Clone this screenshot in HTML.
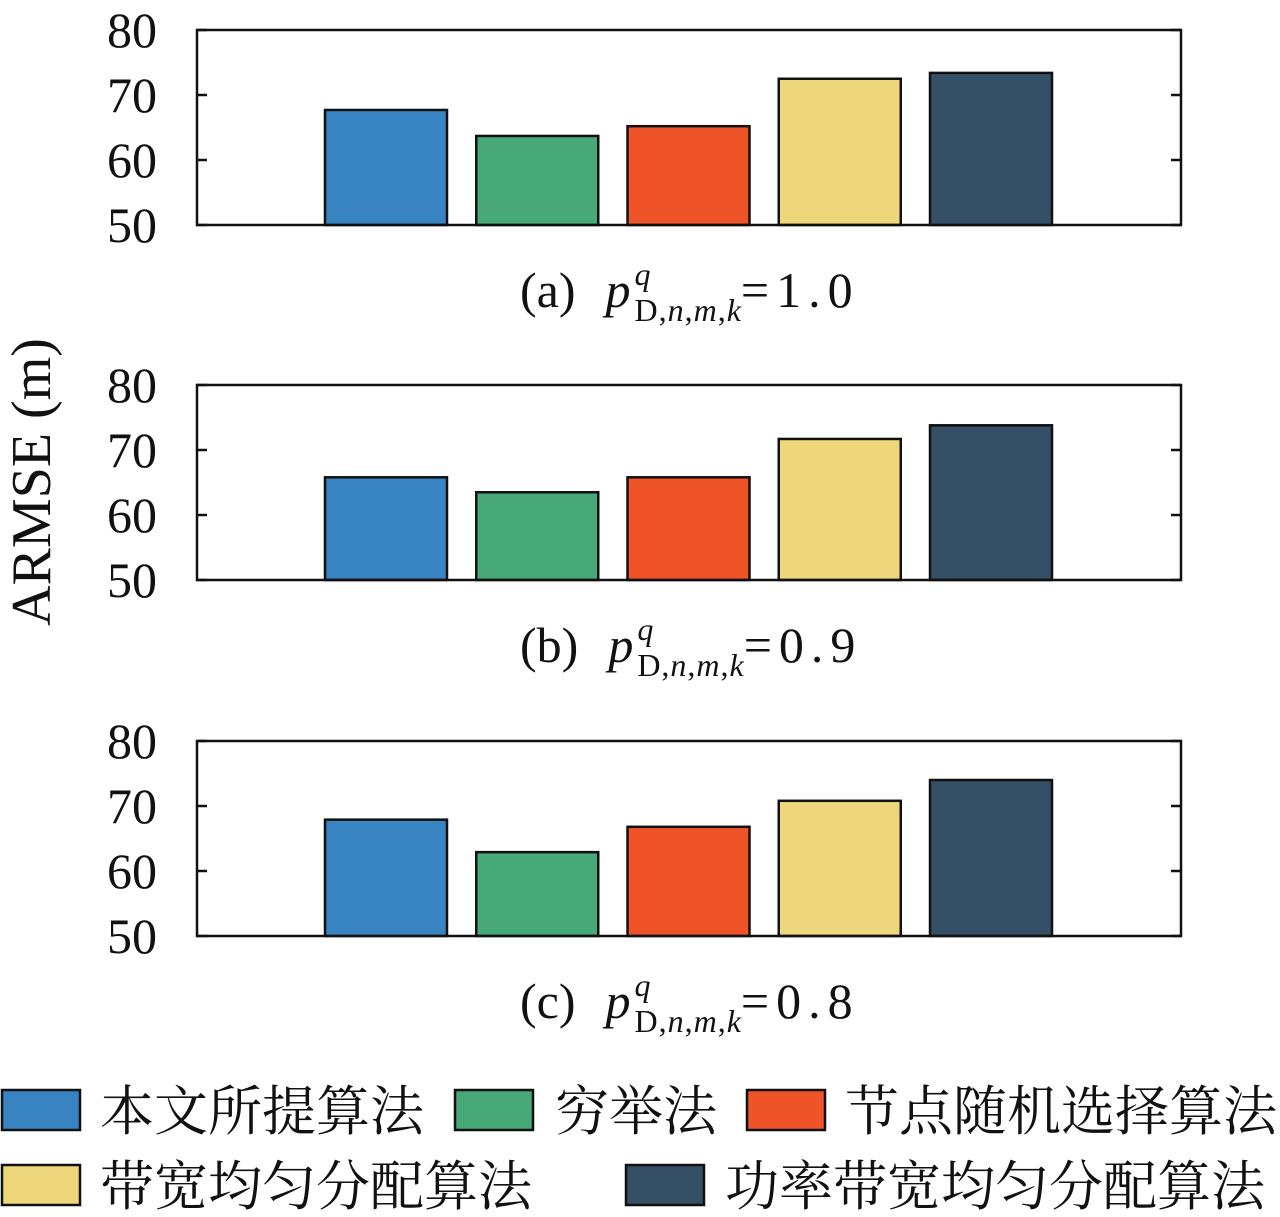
<!DOCTYPE html>
<html><head><meta charset="utf-8"><style>
body{margin:0;background:#fff;width:1280px;height:1212px;overflow:hidden}
svg text{font-family:"Liberation Serif","Noto Serif CJK SC",serif;fill:#111}
</style></head><body>
<svg id="chart" width="1280" height="1212" xmlns="http://www.w3.org/2000/svg"></svg>
<script>
const categories=["本文所提算法","穷举法","节点随机选择算法","带宽均匀分配算法","功率带宽均匀分配算法"];
const colors=["#3883c1","#47a977","#ef5428","#edd77a","#344f66"];
const panelA=[67.7,63.7,65.2,72.5,73.4];
const panelB=[65.8,63.5,65.8,71.7,73.8];
const panelC=[67.9,62.9,66.8,70.8,74.0];
const yTicks=[50,60,70,80];
const panelLabels=["(a)","(b)","(c)"];
const panelValues=["1.0","0.9","0.8"];
const series=[panelA,panelB,panelC];
const NS="http://www.w3.org/2000/svg";
const svg=document.getElementById('chart');
function mk(t,a,p){const e=document.createElementNS(NS,t);for(const k in a)e.setAttribute(k,a[k]);(p||svg).appendChild(e);return e;}
const X0=197,X1=1181,tops=[30,385,741],H=195;
const xC=i=>386+i*151.25;
series.forEach((vals,pi)=>{
  const top=tops[pi],bot=top+H;
  const y=v=>bot-(v-50)/30*H;
  const g=mk('g',{});
  
  
  vals.forEach((v,i)=>{
    const r=mk('rect',{x:xC(i)-61,y:y(v),width:122,height:bot-y(v),fill:colors[i],stroke:'#111','stroke-width':2.5},g);
    
    
  });
  const f=mk('rect',{x:X0,y:top,width:X1-X0,height:H,fill:'none',stroke:'#111','stroke-width':2.5},g);
  
  
  yTicks.forEach(t=>{
    mk('line',{x1:X0,x2:X0+10,y1:y(t),y2:y(t),stroke:'#111','stroke-width':2.5},g);
    mk('line',{x1:X1-10,x2:X1,y1:y(t),y2:y(t),stroke:'#111','stroke-width':2.5},g);
    const tx=mk('text',{x:157,y:y(t)+17,'font-size':50,'text-anchor':'end'},g);
    tx.textContent=t;
    
    
  });
  const cap=mk('text',{x:520,y:bot+82,'font-size':50},g);
  
  
  cap.innerHTML=panelLabels[pi]+'<tspan dx="30" font-style="italic">p</tspan><tspan font-style="italic" font-size="32" dy="-22" dx="4">q</tspan><tspan font-size="32" dy="36" dx="-16" letter-spacing="1">D,</tspan><tspan font-size="32" font-style="italic" letter-spacing="1">n</tspan><tspan font-size="32" letter-spacing="1">,</tspan><tspan font-size="32" font-style="italic" letter-spacing="1">m</tspan><tspan font-size="32" letter-spacing="1">,</tspan><tspan font-size="32" font-style="italic">k</tspan><tspan dy="-14" letter-spacing="7">='+panelValues[pi]+'</tspan>';
});
const yt=mk('text',{x:0,y:0,'font-size':56,'text-anchor':'middle',transform:'translate(50,482) rotate(-90)'});
yt.textContent='ARMSE (m)';


const leg=[[2,1090,100],[455,1090,555],[747,1090,845],[2,1165,100],[626,1165,725]];
leg.forEach((p,i)=>{
  const g=mk('g',{});
  
  
  mk('rect',{x:p[0],y:p[1],width:78,height:40,fill:colors[i],stroke:'#111','stroke-width':2.5},g);
  const t=mk('text',{x:p[2],y:p[1]+40,'font-size':54},g);
  t.textContent=categories[i];
});
</script>
</body></html>
